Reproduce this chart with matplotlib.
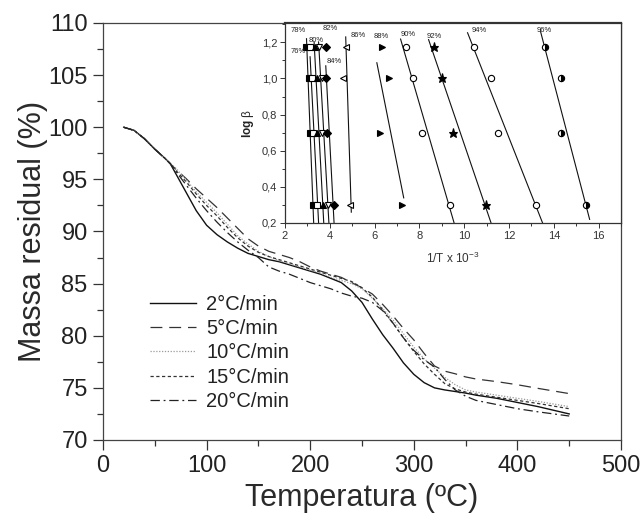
import matplotlib
matplotlib.use('Agg')
import matplotlib.pyplot as plt
from matplotlib.ticker import MultipleLocator, FixedLocator, FixedFormatter

plt.rcParams['font.family'] = ['Liberation Sans', 'DejaVu Sans']
plt.rcParams['mathtext.fontset'] = 'custom'
plt.rcParams['mathtext.rm'] = 'Liberation Sans'
plt.rcParams['mathtext.bf'] = 'Liberation Sans:bold'
plt.rcParams['mathtext.it'] = 'Liberation Sans:italic'

# ---------------- main TGA data ----------------
temperature = [20, 30, 40, 50, 60, 65, 70, 80, 90, 100, 110, 120, 130, 140, 150,
               160, 170, 180, 190, 200, 210, 220, 230, 240, 250, 260, 270, 280,
               290, 300, 310, 320, 330, 340, 350, 360, 380, 400, 420, 450]

mass_2 = [100.0, 99.7, 98.9, 97.9, 97.0, 96.5, 95.6, 93.8, 92.0, 90.6, 89.7, 89.0,
          88.4, 87.9, 87.6, 87.3, 87.1, 86.8, 86.5, 86.2, 85.9, 85.5, 85.1, 84.3,
          83.2, 81.6, 80.1, 78.8, 77.4, 76.3, 75.5, 75.0, 74.8, 74.65, 74.5, 74.3,
          74.0, 73.6, 73.2, 72.5]
mass_5 = [100.0, 99.7, 98.9, 97.9, 97.0, 96.5, 96.0, 95.1, 94.1, 93.2, 92.3, 91.3,
          90.3, 89.3, 88.6, 88.1, 87.8, 87.5, 87.1, 86.6, 86.2, 85.9, 85.6, 85.1,
          84.6, 84.0, 83.0, 81.9, 80.7, 79.6, 78.3, 77.1, 76.6, 76.35, 76.05, 75.85,
          75.6, 75.3, 74.95, 74.45]
mass_10 = [100.0, 99.7, 98.9, 97.9, 97.0, 96.5, 96.1, 95.0, 93.8, 92.8, 91.8, 90.7,
           89.6, 88.8, 88.1, 87.6, 87.2, 86.9, 86.6, 86.3, 86.0, 85.6, 85.3, 85.0,
           84.5, 83.6, 82.6, 81.5, 80.2, 78.9, 77.8, 76.9, 76.0, 75.3, 74.8, 74.6,
           74.3, 74.0, 73.7, 73.2]
mass_15 = [100.0, 99.7, 98.9, 97.9, 97.0, 96.5, 95.9, 94.8, 93.6, 92.5, 91.5, 90.4,
           89.4, 88.6, 88.0, 87.6, 87.3, 87.0, 86.7, 86.4, 86.1, 85.8, 85.5, 85.2,
           84.6, 83.7, 82.5, 81.2, 79.8, 78.5, 77.3, 76.3, 75.4, 74.9, 74.6, 74.4,
           74.1, 73.8, 73.5, 73.0]
mass_20 = [100.0, 99.7, 98.9, 97.9, 97.0, 96.5, 95.8, 94.5, 93.2, 92.0, 90.9, 89.9,
           89.0, 88.2, 87.5, 86.6, 86.2, 85.9, 85.5, 85.1, 84.8, 84.5, 84.1, 83.8,
           83.6, 83.2, 82.4, 81.2, 79.8, 78.6, 77.7, 77.0, 75.8, 74.8, 74.2, 73.8,
           73.4, 73.0, 72.7, 72.3]
rate_labels = ['2°C/min', '5°C/min', '10°C/min', '15°C/min', '20°C/min']

# ---------------- inset (isoconversional) data ----------------
log_beta = [1.176, 1.0, 0.699, 0.301]
conversion_labels = ['76%', '78%', '80%', '82%', '84%', '86%', '88%', '90%', '92%', '94%', '96%']
invT_76 = [2.93, 3.08, 3.11, 3.24]
invT_78 = [3.11, 3.20, 3.23, 3.45]
invT_80 = [3.33, 3.41, 3.41, 3.70]
invT_82 = [3.52, 3.63, 3.63, 3.92]
invT_84 = [3.82, 3.82, 3.88, 4.18]
invT_86 = [4.71, 4.59, float('nan'), 4.89]
invT_88 = [6.34, 6.64, 6.22, 7.21]
invT_90 = [7.40, 7.73, 8.13, 9.35]
invT_92 = [8.64, 9.01, 9.50, 10.99]
invT_94 = [10.44, 11.19, 11.53, 13.20]
invT_96 = [13.60, 14.34, 14.33, 15.45]

# fitted line end points
fit_top_x = [2.96, 3.12, 3.30, 3.50, 3.82, 4.71, 6.10, 7.16, 8.41, 10.15, 13.41]
fit_top_y = [1.22, 1.12, 1.20, 1.20, 1.07, 1.23, 1.087, 1.218, 1.215, 1.253, 1.259]
fit_bot_x = [3.28, 3.50, 3.73, 3.96, 4.19, 4.96, 7.30, 9.55, 11.20, 13.50, 15.60]
fit_bot_y = [0.20, 0.20, 0.20, 0.20, 0.20, 0.26, 0.339, 0.20, 0.20, 0.20, 0.22]

# percentage label positions
label_x = [2.58, 2.58, 3.41, 4.00, 4.22, 5.26, 6.30, 7.48, 8.67, 10.67, 13.56]
label_y = [1.148, 1.265, 1.209, 1.278, 1.092, 1.24, 1.235, 1.246, 1.235, 1.265, 1.265]

inset_yticks = [0.2, 0.4, 0.6, 0.8, 1.0, 1.2]
inset_yticklabels = ['0,2', '0,4', '0,6', '0,8', '1,0', '1,2']
inset_xticks = [2, 4, 6, 8, 10, 12, 14, 16]

# ---------------- figure ----------------
fig = plt.figure(figsize=(6.42, 5.18), dpi=100)
ax = fig.add_axes([0.1604, 0.1506, 0.8069, 0.805])

series = [mass_2, mass_5, mass_10, mass_15, mass_20]
styles = [
    dict(color='#111111', lw=1.0, linestyle='-'),
    dict(color='#333333', lw=0.9, linestyle=(0, (9.5, 5.5))),
    dict(color='#9a9a9a', lw=0.9, linestyle=(0, (1.0, 1.3))),
    dict(color='#333333', lw=0.9, linestyle=(0, (2.6, 2.0))),
    dict(color='#222222', lw=0.9, linestyle=(0, (7.5, 3.0, 1.5, 3.0))),
]
handles = []
for m, st, lab in zip(series, styles, rate_labels):
    h, = ax.plot(temperature, m, label=lab, **st)
    handles.append(h)

ax.set_xlim(0, 500)
ax.set_ylim(70, 110)
ax.xaxis.set_major_locator(MultipleLocator(100))
ax.xaxis.set_minor_locator(MultipleLocator(50))
ax.yaxis.set_major_locator(MultipleLocator(5))
ax.yaxis.set_minor_locator(MultipleLocator(2.5))
ax.tick_params(which='major', direction='out', length=7, width=0.9, labelsize=17,
               color='#333333', labelcolor='#222222', pad=4)
ax.tick_params(which='minor', direction='out', length=4, width=0.9, color='#333333')
for s in ax.spines.values():
    s.set_linewidth(0.9)
    s.set_color('#444444')
ax.set_xlabel('Temperatura (ºC)', fontsize=22, color='#2a2a2a', labelpad=4)
ax.set_ylabel('Massa residual (%)', fontsize=22, color='#2a2a2a', labelpad=0)

leg = ax.legend(handles=handles, loc='center left',
                bbox_to_anchor=(150 / 642, 1 - 353 / 518), bbox_transform=fig.transFigure,
                frameon=False, fontsize=14.5, handlelength=2.3, handletextpad=0.5,
                labelspacing=0.27, borderpad=0, borderaxespad=0)
for t in leg.get_texts():
    t.set_color('#222222')

# ---------------- inset ----------------
axi = fig.add_axes([285 / 642, 1 - 223 / 518, (621 - 285) / 642, (223 - 23) / 518])
axi.set_xlim(2, 17)
axi.set_ylim(0.2, 1.307)

levels = [invT_76, invT_78, invT_80, invT_82, invT_84, invT_86,
          invT_88, invT_90, invT_92, invT_94, invT_96]
markers = [
    dict(marker='s', mfc='black'),
    dict(marker='s', mfc='white'),
    dict(marker='^', mfc='black'),
    dict(marker='v', mfc='white'),
    dict(marker='D', mfc='black', ms=4.0),
    dict(marker='<', mfc='white'),
    dict(marker='>', mfc='black'),
    dict(marker='o', mfc='white'),
    dict(marker='*', mfc='black', ms=6.5),
    dict(marker='o', mfc='white'),
    dict(marker='o', mfc='black', fillstyle='right', markerfacecoloralt='white'),
]
for i, xs in enumerate(levels):
    axi.plot([fit_top_x[i], fit_bot_x[i]], [fit_top_y[i], fit_bot_y[i]],
             color='#111111', lw=0.8, zorder=2)
    mk = dict(ms=4.5, mec='black', mew=0.8)
    mk.update(markers[i])
    axi.plot(xs, log_beta, linestyle='none', zorder=3, **mk)
    axi.text(label_x[i], label_y[i], conversion_labels[i], fontsize=5.5,
             ha='center', va='center', color='#222222')

axi.xaxis.set_major_locator(FixedLocator(inset_xticks))
axi.xaxis.set_minor_locator(MultipleLocator(1))
axi.yaxis.set_major_locator(FixedLocator(inset_yticks))
axi.yaxis.set_major_formatter(FixedFormatter(inset_yticklabels))
axi.yaxis.set_minor_locator(MultipleLocator(0.1))
axi.tick_params(which='major', direction='out', length=3.5, width=0.7, labelsize=8,
                color='#333333', labelcolor='#333333', pad=2)
axi.tick_params(which='minor', direction='out', length=2, width=0.7, color='#333333')
for s in axi.spines.values():
    s.set_linewidth(0.9)
    s.set_color('#333333')
axi.spines['top'].set_linewidth(1.6)
axi.set_xlabel(r'1/T x 10$^{-3}$', fontsize=8.5, color='#333333', labelpad=7)
axi.set_ylabel(r'$\mathbf{log}$ β', fontsize=8.5, color='#222222', labelpad=4)

fig.savefig('out.png', dpi=100)
